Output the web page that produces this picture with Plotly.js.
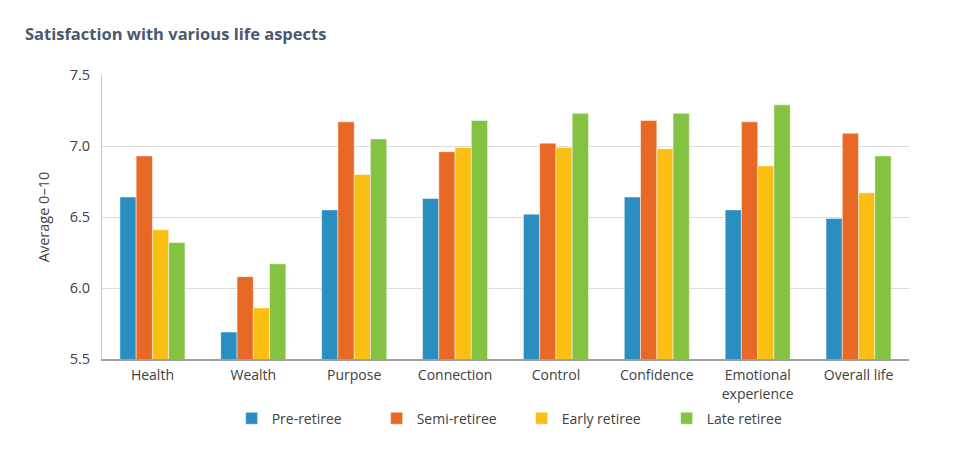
<!DOCTYPE html>
<html>
<head>
<meta charset="utf-8">
<script src="https://cdn.plot.ly/plotly-3.0.1.min.js"></script>
<style>html,body{margin:0;padding:0;background:#fff;}#chart{width:960px;height:449px;}</style>
</head>
<body>
<div id="chart"></div>
<script>
const categories = ["Health", "Wealth", "Purpose", "Connection", "Control", "Confidence", "Emotional<br>experience", "Overall life"];
const seriesNames = ["Pre-retiree", "Semi-retiree", "Early retiree", "Late retiree"];
const preRetiree = [6.64, 5.69, 6.55, 6.63, 6.52, 6.64, 6.55, 6.49];
const semiRetiree = [6.93, 6.08, 7.17, 6.96, 7.02, 7.18, 7.17, 7.09];
const earlyRetiree = [6.41, 5.86, 6.80, 6.99, 6.99, 6.98, 6.86, 6.67];
const lateRetiree = [6.32, 6.17, 7.05, 7.18, 7.23, 7.23, 7.29, 6.93];
const yTicks = [5.5, 6.0, 6.5, 7.0, 7.5];
const colors = ["#2a8fc0", "#e86825", "#fbbf14", "#84c242"];

const values = [preRetiree, semiRetiree, earlyRetiree, lateRetiree];
const traces = values.map((v, i) => ({
  type: "bar",
  name: seriesNames[i],
  x: categories,
  y: v,
  marker: {color: colors[i], line: {color: "rgba(255,255,255,0.6)", width: 0.8}},
  hoverinfo: "none"
}));

const font = "'Open Sans', sans-serif";
const txt = "#404040";
const layout = {
  width: 960, height: 449,
  margin: {l: 102, r: 51, t: 75, b: 90},
  paper_bgcolor: "#fff", plot_bgcolor: "#fff",
  font: {family: font, color: txt, size: 14},
  title: {text: "<b>Satisfaction with various life aspects</b>", x: 0.026, xanchor: "left", y: 0.924, yanchor: "middle",
          font: {family: font, size: 16.5, color: "#4a5870"}},
  barmode: "group",
  bargap: 0.355,
  bargroupgap: 0,
  showlegend: true,
  legend: {orientation: "h", x: 0.52, xanchor: "center", y: -0.21, yanchor: "middle",
           font: {family: font, size: 14, color: txt}, entrywidth: 100, traceorder: "normal"},
  xaxis: {type: "category", showgrid: false, showline: true, linecolor: "#a0a0a0", linewidth: 1.5,
          ticks: "", ticklabelstandoff: 3, tickfont: {family: font, size: 14, color: txt}},
  yaxis: {range: [5.5, 7.5], tickvals: yTicks, ticktext: yTicks.map(t => t.toFixed(1)),
          showgrid: true, gridcolor: "#dcdcdc", gridwidth: 1, zeroline: false,
          showline: true, linecolor: "#c8c8c8", linewidth: 1, ticks: "", ticklabelstandoff: 8,
          tickfont: {family: font, size: 14.5, color: txt},
          title: {text: "Average 0–10", standoff: 16, font: {family: font, size: 14.5, color: txt}}}
};

Plotly.newPlot("chart", traces, layout, {displayModeBar: false, staticPlot: true});
</script>
</body>
</html>
